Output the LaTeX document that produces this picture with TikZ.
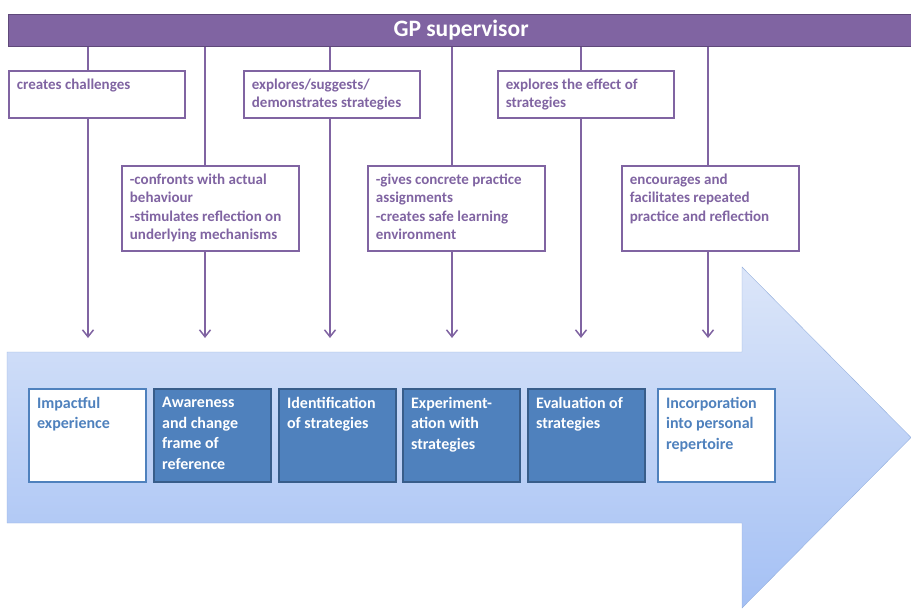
\documentclass[tikz,border=0pt]{standalone}
\usepackage{fontspec}
\setmainfont{Carlito}
\usetikzlibrary{arrows.meta}
\definecolor{gppurple}{HTML}{8064A2}
\definecolor{gpdark}{HTML}{5F497A}
\definecolor{stageblue}{HTML}{4F81BD}
\definecolor{stagedark}{HTML}{385D8A}
\definecolor{arrowtop}{HTML}{DCE6F9}
\definecolor{arrowbot}{HTML}{A4C0F4}
\definecolor{arrowline}{HTML}{95B0DE}

\begin{document}
\begin{tikzpicture}[x=1pt,y=-1pt,
  role/.style 2 args={draw=gppurple, line width=1.8pt, fill=white, anchor=north west,
    inner sep=8pt, text=gppurple, font=\fontsize{15}{18.3}\selectfont\bfseries,
    execute at begin node={\begin{minipage}[c][#2pt][t]{#1pt}\raggedright},
    execute at end node={\end{minipage}}},
  stage/.style={anchor=north west, inner sep=8pt, line width=2.2pt,
    font=\fontsize{16}{20.6}\selectfont\bfseries,
    execute at begin node={\begin{minipage}[c][77pt][t]{101pt}\raggedright},
    execute at end node={\end{minipage}}},
  stagelight/.style={stage, draw=stageblue, fill=white, text=stageblue},
  stagefull/.style={stage, draw=stagedark, fill=stageblue, text=white},
  link/.style={draw=gppurple, line width=1.5pt},
  linkto/.style={link, -{Straight Barb[length=7pt,width=11pt]}}]
\useasboundingbox (0,0) rectangle (911,610);
% Big arrow behind the stages
\shade[draw=arrowline, top color=arrowtop, bottom color=arrowbot]
  (7,352) -- (742,352) -- (742,267) -- (911,437.5) -- (742,608) -- (742,523) -- (7,523) -- cycle;
% Supervisor bar
\node (sup) [draw=gpdark, fill=gppurple, line width=1.2pt, minimum width=905pt,
  minimum height=32pt, inner sep=0pt, anchor=north west, text=white,
  font=\fontsize{23.5}{26}\selectfont\bfseries] at (8,14) {GP supervisor};
% Where the arrows end
\coordinate (t1) at (88,338);
\coordinate (t2) at (205,338);
\coordinate (t3) at (330,338);
\coordinate (t4) at (452,338);
\coordinate (t5) at (581,338);
\coordinate (t6) at (708,338);
% Roles on top row
\node (challenge) [role={160}{31}] at (8,70) {creates challenges};
\node (explore) [role={160}{31}] at (243,70) {explores/suggests/\\demonstrates strategies};
\node (effect) [role={160}{31}] at (497,70) {explores the effect of\\strategies};
% Roles on second row
\node (confront) [role={161}{69}] at (121,165) {-confronts with actual\\behaviour\\-stimulates reflection on\\underlying mechanisms};
\node (practice) [role={161}{69}] at (367,165) {-gives concrete practice\\assignments\\-creates safe learning\\environment};
\node (repeated) [role={161}{69}] at (621,165) {encourages and\\facilitates repeated\\practice and reflection};
% Lines from the supervisor
\draw[link] (sup.south -| t1) -- (challenge.north -| t1);
\draw[linkto] (challenge.south -| t1) -- (t1);
\draw[link] (sup.south -| t2) -- (confront.north -| t2);
\draw[linkto] (confront.south -| t2) -- (t2);
\draw[link] (sup.south -| t3) -- (explore.north -| t3);
\draw[linkto] (explore.south -| t3) -- (t3);
\draw[link] (sup.south -| t4) -- (practice.north -| t4);
\draw[linkto] (practice.south -| t4) -- (t4);
\draw[link] (sup.south -| t5) -- (effect.north -| t5);
\draw[linkto] (effect.south -| t5) -- (t5);
\draw[link] (sup.south -| t6) -- (repeated.north -| t6);
\draw[linkto] (repeated.south -| t6) -- (t6);
% Stages
\node (impact) [stagelight] at (28,388) {Impactful\\experience};
\node (aware) [stagefull] at (153,388) {Awareness\\and change\\frame of\\reference};
\node (ident) [stagefull] at (278,388) {Identification\\of strategies};
\node (exper) [stagefull] at (402,388) {Experiment-\\ation with\\strategies};
\node (evalu) [stagefull] at (527,388) {Evaluation of\\strategies};
\node (incorp) [stagelight] at (657,388) {Incorporation\\into personal\\repertoire};
\end{tikzpicture}
\end{document}
